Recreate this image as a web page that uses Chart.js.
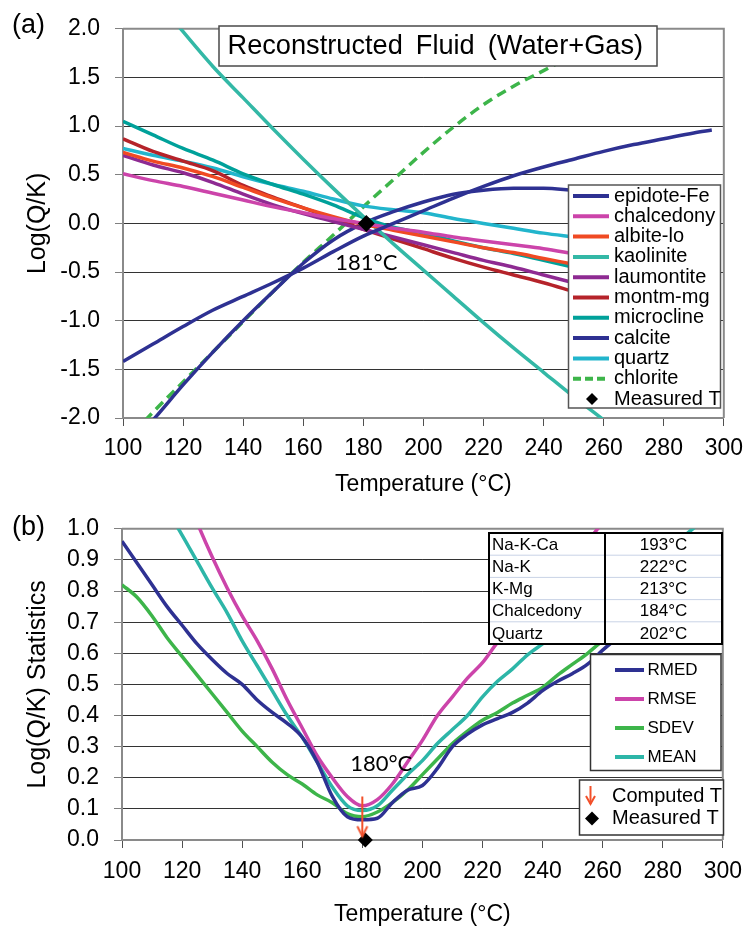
<!DOCTYPE html>
<html>
<head>
<meta charset="utf-8">
<script src="https://cdn.jsdelivr.net/npm/chart.js@4.4.1/dist/chart.umd.min.js"></script>
<style>
  html, body { margin: 0; padding: 0; background: #fff; overflow: hidden; }
  #wrapA { position: absolute; left: 0; top: 0; width: 752px; height: 500px; }
  #wrapB { position: absolute; left: 0; top: 500px; width: 752px; height: 428px; }
</style>
</head>
<body>
<div id="wrapA"><canvas id="chartA"></canvas></div>
<div id="wrapB"><canvas id="chartB"></canvas></div>
<script>
// ---- panel (a): saturation indices vs temperature ----
const tempA = [100,110,120,130,140,150,160,170,180,190,200,210,220,230,240,250];
const chalcedony = [0.51,0.44,0.38,0.31,0.24,0.17,0.11,0.05,0.00,-0.05,-0.09,-0.14,-0.18,-0.22,-0.26,-0.31];
const albiteLo   = [0.73,0.64,0.57,0.48,0.37,0.26,0.16,0.07,-0.01,-0.07,-0.13,-0.19,-0.25,-0.30,-0.36,-0.42];
const laumontite = [0.70,0.60,0.52,0.42,0.30,0.19,0.10,0.02,-0.06,-0.14,-0.22,-0.30,-0.38,-0.45,-0.53,-0.61];
const montmMg    = [0.87,0.74,0.64,0.54,0.39,0.27,0.16,0.05,-0.06,-0.16,-0.26,-0.36,-0.45,-0.53,-0.61,-0.70];
const microcline = [1.05,0.91,0.77,0.65,0.51,0.40,0.30,0.19,0.06,-0.04,-0.10,-0.18,-0.25,-0.31,-0.38,-0.45];
const quartz     = [0.77,0.70,0.64,0.57,0.48,0.40,0.33,0.25,0.18,0.14,0.11,0.05,0.00,-0.05,-0.10,-0.14];

const tempEpidote = [100,110,120,130,140,150,160,170,180,190,200,210,220,230,240,250,260,270,280,290,296];
const epidoteFe   = [-1.42,-1.24,-1.06,-0.89,-0.75,-0.61,-0.46,-0.29,-0.13,0.00,0.13,0.26,0.38,0.49,0.58,0.66,0.74,0.81,0.87,0.93,0.96];

const tempCalcite = [100,110,120,130,140,150,160,170,180,190,200,210,220,230,240,250,255];
const calcite     = [-2.35,-2.02,-1.66,-1.32,-1.00,-0.70,-0.41,-0.17,0.00,0.12,0.22,0.30,0.34,0.36,0.36,0.34,0.33];

const tempKaolinite = [110,120,130,140,150,160,170,180,190,200,210,220,230,240,250,260,270];
const kaolinite     = [2.35,1.97,1.61,1.29,0.97,0.66,0.36,0.07,-0.21,-0.48,-0.75,-1.02,-1.28,-1.53,-1.78,-2.02,-2.26];

const tempChlorite = [100,110,120,130,140,150,160,170,180,190,200,210,220,230,240,250,260,270];
const chlorite     = [-2.27,-1.94,-1.63,-1.32,-1.01,-0.70,-0.40,-0.12,0.17,0.45,0.73,0.99,1.22,1.41,1.57,1.73,1.88,2.03];

const measuredT = [181];
const measuredLog = [0];

// ---- panel (b): statistics of log(Q/K) ----
const tempB = [100,105,110,115,120,125,130,135,140,145,150,155,160,165,170,175,180,185,190,195,200,
               205,210,215,220,225,230,235,240,245,250,255,260,265,270,275,280,285,290,295,300];
const rmed = [0.96,0.89,0.82,0.75,0.69,0.63,0.58,0.535,0.50,0.45,0.41,0.375,0.33,0.25,0.14,0.075,0.065,0.07,0.12,0.16,0.175,
              0.23,0.30,0.34,0.37,0.39,0.41,0.44,0.48,0.51,0.535,0.565,0.61,0.65,0.68,0.705,0.73,0.755,0.78,0.805,0.83];
const rmse = [null,null,null,null,1.14,1.02,0.91,0.81,0.72,0.64,0.55,0.45,0.36,0.27,0.20,0.14,0.11,0.13,0.18,0.25,0.32,
              0.40,0.46,0.52,0.57,0.635,0.69,0.745,0.80,0.85,0.90,0.96,1.02,null,null,null,null,null,null,null,null];
const sdev = [0.82,0.78,0.72,0.65,0.59,0.53,0.47,0.41,0.35,0.30,0.25,0.21,0.18,0.145,0.12,0.085,0.075,0.09,0.12,0.16,0.21,
              0.26,0.31,0.35,0.385,0.41,0.44,0.465,0.49,0.53,0.565,0.60,0.64,0.67,0.70,0.73,0.76,0.79,0.82,0.845,0.87];
const mean = [null,null,null,1.06,0.98,0.895,0.81,0.73,0.64,0.56,0.48,0.40,0.33,0.25,0.17,0.11,0.095,0.11,0.16,0.21,0.255,
              0.31,0.355,0.40,0.46,0.51,0.55,0.595,0.63,0.665,0.70,0.735,0.77,0.81,0.85,0.885,0.92,0.96,1.00,1.04,null];
const computedT = 180;
const computedArrow = [0.14, 0.012];
const geoNames = ['Na-K-Ca','Na-K','K-Mg','Chalcedony','Quartz'];
const geoTemps = [193,222,213,184,202];

const FONT = '"Liberation Sans", Arial, sans-serif';
const LABEL_FONT = 'Lato, "Open Sans", sans-serif';
Chart.defaults.font.family = FONT;
Chart.defaults.color = '#000';

const pts = (xs, ys) => xs.map((x, i) => ({ x, y: ys[i] }));

function lineSet(label, xs, ys, color, width, dash) {
  return {
    label, data: pts(xs, ys), borderColor: color, backgroundColor: color,
    borderWidth: width, borderDash: dash || [], pointRadius: 0,
    cubicInterpolationMode: 'monotone', fill: false, kind: 'line'
  };
}

// arrowhead image for the "Computed T" marker
function arrowHead(color) {
  const c = document.createElement('canvas');
  c.width = 14; c.height = 28;
  const g = c.getContext('2d');
  g.strokeStyle = color; g.lineWidth = 2;
  g.beginPath(); g.moveTo(2, 4); g.lineTo(7, 14); g.lineTo(12, 4); g.stroke();
  return c;
}

function xScale(min, max, tickPad, titlePad, height) {
  return {
    type: 'linear', min, max,
    ticks: { stepSize: 20, padding: tickPad, font: { size: 23 } },
    grid: { drawOnChartArea: false, drawTicks: true, tickLength: 8, tickColor: '#505050' },
    border: { display: true, color: '#8a8a8a', width: 2 },
    title: { display: true, text: 'Temperature (°C)', font: { size: 23 }, padding: { top: 0, bottom: titlePad } },
    afterFit: s => { s.height = height; }
  };
}

function yScale(min, max, step, title, width) {
  return {
    type: 'linear', min, max,
    ticks: { stepSize: step, padding: 15, font: { size: 23 }, callback: v => v.toFixed(1) },
    grid: { color: '#333', lineWidth: 1, drawTicks: true, tickLength: 8, tickColor: '#808080' },
    border: { display: true, color: '#8a8a8a', width: 2 },
    title: { display: true, text: title, font: { size: 25 }, padding: { top: 23, bottom: 0 } },
    afterFit: s => { s.width = width; }
  };
}

function frame(chart) {
  const { ctx, chartArea: a } = chart;
  ctx.save();
  ctx.strokeStyle = '#8a8a8a'; ctx.lineWidth = 2;
  ctx.beginPath();
  ctx.moveTo(a.left, a.top); ctx.lineTo(a.right, a.top); ctx.lineTo(a.right, a.bottom);
  ctx.stroke();
  ctx.restore();
}

function diamond(ctx, x, y, r) {
  ctx.beginPath();
  ctx.moveTo(x - r, y); ctx.lineTo(x, y - r); ctx.lineTo(x + r, y); ctx.lineTo(x, y + r);
  ctx.closePath(); ctx.fill();
}

function box(ctx, x, y, w, h, stroke, lw) {
  ctx.fillStyle = '#fff'; ctx.fillRect(x, y, w, h);
  ctx.strokeStyle = stroke; ctx.lineWidth = lw; ctx.strokeRect(x, y, w, h);
}

// ---------- chart (a) ----------
const dsA = [
  lineSet('epidote-Fe', tempEpidote, epidoteFe, '#2E3192', 3.5),
  lineSet('chalcedony', tempA, chalcedony, '#CC44AA', 3.5),
  lineSet('albite-lo', tempA, albiteLo, '#F04A23', 3.5),
  lineSet('kaolinite', tempKaolinite, kaolinite, '#33B8A6', 3.5),
  lineSet('laumontite', tempA, laumontite, '#8E2A92', 3.5),
  lineSet('montm-mg', tempA, montmMg, '#B5232A', 3.5),
  lineSet('microcline', tempA, microcline, '#00A19A', 3.5),
  lineSet('calcite', tempCalcite, calcite, '#2E3192', 3.5),
  lineSet('quartz', tempA, quartz, '#22B5CC', 3.5),
  lineSet('chlorite', tempChlorite, chlorite, '#3DB54A', 3.5, [10, 6]),
  { label: 'Measured T', data: pts(measuredT, measuredLog), showLine: false, pointStyle: 'rectRot',
    pointRadius: 8.5, backgroundColor: '#000', borderColor: '#000', borderWidth: 0, clip: false, order: -1, kind: 'diamond' }
];

const decorA = {
  id: 'decorA',
  beforeDatasetsDraw: frame,
  afterDraw(chart) {
    const { ctx, scales: { x, y } } = chart;
    ctx.save();
    // title box
    box(ctx, 219, 26, 438, 40, '#4a4a4a', 1.5);
    ctx.fillStyle = '#000'; ctx.font = `27.2px ${FONT}`;
    ctx.textAlign = 'left'; ctx.textBaseline = 'middle';
    let tx = 227.5;
    'Reconstructed Fluid (Water+Gas)'.split(' ').forEach(w => {
      ctx.fillText(w, tx, 46.5);
      tx += ctx.measureText(w).width + 13;
    });
    // legend
    box(ctx, 568.5, 185, 152, 223, '#555', 1.5);
    ctx.font = `20px ${FONT}`;
    chart.data.datasets.forEach((ds, i) => {
      const ry = 196 + i * 20.3;
      if (ds.kind === 'line') {
        ctx.strokeStyle = ds.borderColor; ctx.lineWidth = 4;
        ctx.setLineDash(ds.borderDash.length ? [8, 4] : []);
        ctx.beginPath(); ctx.moveTo(573, ry); ctx.lineTo(609, ry); ctx.stroke();
        ctx.setLineDash([]);
      } else {
        ctx.fillStyle = '#000'; diamond(ctx, 592, ry, 6);
      }
      ctx.fillStyle = '#000';
      ctx.fillText(ds.label, 614, ry);
    });
    // annotation
    ctx.font = `22px ${LABEL_FONT}`; ctx.textAlign = 'center';
    ctx.fillText(measuredT[0] + '°C', x.getPixelForValue(measuredT[0]), y.getPixelForValue(-0.41));
    ctx.font = `27px ${FONT}`; ctx.textAlign = 'left';
    ctx.fillText('(a)', 12, 26);
    ctx.restore();
  }
};

new Chart(document.getElementById('chartA'), {
  type: 'line',
  data: { datasets: dsA },
  options: {
    responsive: true, maintainAspectRatio: false, animation: false, devicePixelRatio: 1, events: [],
    layout: { padding: { left: 0, top: 20, right: 25, bottom: 0 } },
    plugins: { legend: { display: false }, tooltip: { enabled: false } },
    scales: {
      x: xScale(100, 300, 9, 2, 82),
      y: yScale(-2, 2, 0.5, 'Log(Q/K)', 123)
    }
  },
  plugins: [decorA]
});

// ---------- chart (b) ----------
const arrowColor = '#F2502A';
const dsB = [
  lineSet('RMED', tempB, rmed, '#2E3192', 3.5),
  lineSet('RMSE', tempB, rmse, '#CC44AA', 3.5),
  lineSet('SDEV', tempB, sdev, '#3DB54A', 3.5),
  lineSet('MEAN', tempB, mean, '#2DB6A8', 3.5),
  { label: 'Computed T', data: pts([computedT, computedT], computedArrow), borderColor: arrowColor,
    borderWidth: 2, pointRadius: [0, 7], pointStyle: [false, arrowHead(arrowColor)], clip: false, order: -2, kind: 'arrow' },
  { label: 'Measured T', data: pts(measuredT, measuredLog), showLine: false, pointStyle: 'rectRot',
    pointRadius: 7.5, backgroundColor: '#000', borderColor: '#000', borderWidth: 0, clip: false, order: -1, kind: 'diamond' }
];

const decorB = {
  id: 'decorB',
  beforeDatasetsDraw: frame,
  afterDraw(chart) {
    const { ctx, scales: { x, y } } = chart;
    ctx.save();
    // geothermometer table
    const tx0 = 489, ty0 = 33, tw = 233, rh = 22.2, colX = 605;
    ctx.fillStyle = '#fff'; ctx.fillRect(tx0, ty0, tw, rh * geoNames.length);
    ctx.strokeStyle = '#c9d3e6'; ctx.lineWidth = 1;
    for (let i = 1; i < geoNames.length; i++) {
      ctx.beginPath(); ctx.moveTo(tx0, ty0 + i * rh); ctx.lineTo(tx0 + tw, ty0 + i * rh); ctx.stroke();
    }
    ctx.strokeStyle = '#000'; ctx.lineWidth = 2;
    ctx.strokeRect(tx0, ty0, tw, rh * geoNames.length);
    ctx.beginPath(); ctx.moveTo(colX, ty0); ctx.lineTo(colX, ty0 + rh * geoNames.length); ctx.stroke();
    ctx.fillStyle = '#000'; ctx.font = `17px ${FONT}`; ctx.textBaseline = 'middle';
    geoNames.forEach((n, i) => {
      const ry = ty0 + rh * i + rh / 2 + 1;
      ctx.textAlign = 'left'; ctx.fillText(n, 492, ry);
      ctx.textAlign = 'center'; ctx.fillText(geoTemps[i] + '°C', 663.5, ry);
    });
    // statistics legend
    box(ctx, 590.5, 154.5, 130.5, 116, '#333', 1.5);
    ctx.textAlign = 'left'; ctx.font = `17px ${FONT}`;
    chart.data.datasets.filter(d => d.kind === 'line').forEach((ds, i) => {
      const ry = 170 + i * 29;
      ctx.strokeStyle = ds.borderColor; ctx.lineWidth = 4;
      ctx.beginPath(); ctx.moveTo(615, ry); ctx.lineTo(644, ry); ctx.stroke();
      ctx.fillStyle = '#000'; ctx.fillText(ds.label, 647.5, ry);
    });
    // marker legend
    box(ctx, 579.5, 280, 144, 55, '#333', 1.5);
    ctx.font = `20px ${FONT}`;
    const marks = chart.data.datasets.filter(d => d.kind !== 'line');
    marks.forEach((ds, i) => {
      const ry = 296 + i * 22.5;
      if (ds.kind === 'arrow') {
        ctx.strokeStyle = arrowColor; ctx.lineWidth = 2;
        ctx.beginPath(); ctx.moveTo(590.5, ry - 10); ctx.lineTo(590.5, ry + 8); ctx.stroke();
        ctx.beginPath(); ctx.moveTo(586, ry); ctx.lineTo(590.5, ry + 8); ctx.lineTo(595, ry); ctx.stroke();
      } else {
        ctx.fillStyle = '#000'; diamond(ctx, 592, ry, 7);
      }
      ctx.fillStyle = '#000'; ctx.fillText(ds.label, 612, ry);
    });
    // annotation
    ctx.font = `22px ${LABEL_FONT}`; ctx.textAlign = 'center';
    ctx.fillText(computedT + '°C', x.getPixelForValue(186.3), y.getPixelForValue(0.245));
    ctx.font = `27px ${FONT}`; ctx.textAlign = 'left';
    ctx.fillText('(b)', 12, 27.5);
    ctx.restore();
  }
};

new Chart(document.getElementById('chartB'), {
  type: 'line',
  data: { datasets: dsB },
  options: {
    responsive: true, maintainAspectRatio: false, animation: false, devicePixelRatio: 1, events: [],
    layout: { padding: { left: 0, top: 27, right: 24, bottom: 0 } },
    plugins: { legend: { display: false }, tooltip: { enabled: false } },
    scales: {
      x: xScale(100, 300, 10, 0, 88),
      y: yScale(0, 1, 0.1, 'Log(Q/K) Statistics', 122)
    }
  },
  plugins: [decorB]
});
</script>
</body>
</html>
